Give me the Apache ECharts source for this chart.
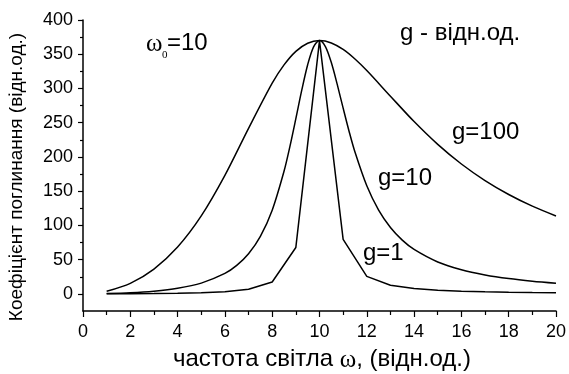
<!DOCTYPE html>
<html>
<head>
<meta charset="utf-8">
<script src="https://cdn.jsdelivr.net/npm/echarts@6/dist/echarts.min.js"></script>
<style>
html,body{margin:0;padding:0;background:#fff;}
#chart{width:569px;height:374px;}
</style>
</head>
<body>
<div id="chart"></div>
<script>
// ---- data ----
var xTicks = [0, 2, 4, 6, 8, 10, 12, 14, 16, 18, 20];
var yTicks = [0, 50, 100, 150, 200, 250, 300, 350, 400];
var yMinorTicks = [25, 75, 125, 175, 225, 275, 325, 375];

var omegaG1 = [1, 2, 3, 4, 5, 6, 7, 8, 9, 10, 11, 12, 13, 14, 15, 16, 17, 18, 19, 20];
var valG1 = [0.04, 0.16, 0.40, 0.84, 1.64, 3.22, 6.84, 17.41, 67.81, 370, 79.66, 25.62, 12.68, 7.71, 5.25, 3.85, 2.97, 2.37, 1.95, 1.64];

var omegaG10 = [1, 2, 3, 4, 5, 6, 6.5, 7, 7.5, 8, 8.5, 8.75, 9, 9.25, 9.5, 9.75, 10, 10.25, 10.5, 10.75, 11, 11.25, 11.5, 12, 12.5, 13, 13.5, 14, 15, 16, 17, 18, 19, 20];
var valG10 = [0.38, 1.60, 3.98, 8.20, 15.74, 29.89, 41.6, 58.65, 84.0, 122.3, 179.1, 215.4, 255.9, 297.5, 334.7, 360.8, 370, 361.2, 337.8, 305.9, 271.2, 237.6, 207.1, 157.8, 122.3, 96.9, 78.5, 64.9, 46.6, 35.2, 27.7, 22.4, 18.6, 15.7];

var omegaG100 = [1, 2, 3, 4, 5, 6, 7, 8, 8.5, 9, 9.5, 10, 10.5, 11, 11.5, 12, 13, 14, 15, 16, 17, 18, 19, 20];
var valG100 = [3.74, 15.39, 36.27, 68.39, 113.85, 173.08, 241.70, 307.69, 334.4, 354.21, 366.1, 370, 366.5, 356.99, 343.0, 326.15, 288.68, 251.67, 218.36, 189.68, 165.47, 145.18, 128.16, 113.85];

function pairs(xs, ys) { return xs.map(function (x, i) { return [x, ys[i]]; }); }

var SANS = '"Liberation Sans", Arial, Helvetica, sans-serif';
var SERIF = '"Liberation Serif", "Times New Roman", serif';

function txt(x, y, text, size, family, align, rot) {
  var el = {
    type: 'text', x: x, y: y,
    style: {
      x: 0, y: 0, text: text, fill: '#000',
      font: size + 'px ' + family,
      fontSize: size, fontFamily: family,
      align: align || 'left', verticalAlign: 'middle',
      textAlign: align || 'left', textVerticalAlign: 'middle'
    },
    z: 100
  };
  if (rot) el.rotation = rot;
  return el;
}

var chart = echarts.init(document.getElementById('chart'), null, {renderer: 'canvas'});

var lineStyle = {color: '#000', width: 1.5};

var TITLE_SIZE = 24;
var ctx = document.createElement('canvas').getContext('2d');
ctx.font = TITLE_SIZE + 'px ' + SANS;
var w1 = ctx.measureText('частота світла ').width;
ctx.font = (TITLE_SIZE + 1) + 'px ' + SERIF;
var w2 = ctx.measureText('ω').width;
ctx.font = TITLE_SIZE + 'px ' + SANS;
var w3 = ctx.measureText(', (відн.од.)').width;
var tLeft = 322 - (w1 + w2 + w3) / 2;

var option = {
  animation: false,
  backgroundColor: '#fff',
  grid: {left: 83, right: 9, top: 20, bottom: 63, containLabel: false},
  xAxis: {
    type: 'value', min: 0, max: 20, interval: 2,
    axisLine: {onZero: false, lineStyle: {color: '#000', width: 1.5}},
    axisTick: {show: true, inside: false, length: 6, lineStyle: {color: '#000', width: 1.2}},
    minorTick: {show: true, splitNumber: 2, length: 4, lineStyle: {color: '#000', width: 1.2}},
    axisLabel: {color: '#000', fontSize: 18, fontFamily: SANS, margin: 12,
      customValues: xTicks},
    splitLine: {show: false}, minorSplitLine: {show: false}
  },
  yAxis: [{
    type: 'value', min: -25, max: 400, position: 'left',
    axisLine: {show: true, onZero: false, lineStyle: {color: '#000', width: 1.5}},
    axisTick: {show: true, inside: false, length: 5, customValues: yTicks, lineStyle: {color: '#000', width: 1.2}},
    axisLabel: {color: '#000', fontSize: 18, fontFamily: SANS, margin: 10, customValues: yTicks},
    splitLine: {show: false}
  }, {
    type: 'value', min: -25, max: 400, position: 'left',
    axisLine: {show: false, onZero: false},
    axisTick: {show: true, inside: false, length: 3, customValues: yMinorTicks, lineStyle: {color: '#000', width: 1.2}},
    axisLabel: {show: false},
    splitLine: {show: false}
  }],
  series: [{
    name: 'g=1', type: 'line', yAxisIndex: 0, data: pairs(omegaG1, valG1),
    showSymbol: false, symbol: 'none', smooth: false, lineStyle: lineStyle
  }, {
    name: 'g=10', type: 'line', yAxisIndex: 0, data: pairs(omegaG10, valG10),
    showSymbol: false, symbol: 'none', smooth: 0.3, lineStyle: lineStyle
  }, {
    name: 'g=100', type: 'line', yAxisIndex: 0, data: pairs(omegaG100, valG100),
    showSymbol: false, symbol: 'none', smooth: 0.3, lineStyle: lineStyle
  }],
  graphic: [
    txt(17, 177, 'Коефіцієнт поглинання (відн.од.)', 19, SANS, 'center', Math.PI / 2),
    txt(tLeft, 359, 'частота світла ', TITLE_SIZE, SANS, 'left'),
    txt(tLeft + w1, 360, 'ω', TITLE_SIZE + 1, SERIF, 'left'),
    txt(tLeft + w1 + w2, 359, ', (відн.од.)', TITLE_SIZE, SANS, 'left'),
    txt(146, 44, 'ω', 25, SERIF, 'left'),
    txt(162, 55, '0', 11, SERIF, 'left'),
    txt(167, 43, '=10', 24, SANS, 'left'),
    txt(400, 33, 'g - відн.од.', 24, SANS, 'left'),
    txt(452, 132, 'g=100', 24, SANS, 'left'),
    txt(378, 178, 'g=10', 24, SANS, 'left'),
    txt(363, 253, 'g=1', 24, SANS, 'left')
  ]
};
chart.setOption(option);
</script>
</body>
</html>
